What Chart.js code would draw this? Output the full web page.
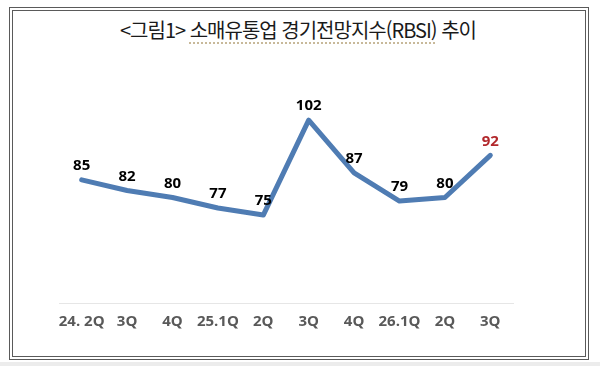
<!DOCTYPE html>
<html lang="ko">
<head>
<meta charset="utf-8">
<script src="https://cdn.jsdelivr.net/npm/chart.js@4"></script>
<style>
    body { margin: 0; background: #fff; }
    #page { position: relative; width: 600px; height: 366px; overflow: hidden; }
    #frame {
        position: absolute; left: 9px; top: 7px; width: 572px; height: 345px;
        border: 4px double #5a5a5a;
    }
    #shadow { position: absolute; left: 0; top: 362px; width: 600px; height: 4px; background: #ececec; }
    #title {
        position: absolute; left: 0; top: 15px; width: 596px; text-align: center;
        font-family: "Noto Sans CJK KR", sans-serif; font-size: 20px; letter-spacing: -1px;
        line-height: 30px; color: #1a1a1a; white-space: nowrap;
    }
    #title span { text-decoration: underline dotted #c8b99a; text-underline-offset: 4px; }
    #chart { position: absolute; left: 0; top: 0; }
</style>
</head>
<body>
<div id="page">
    <div id="shadow"></div>
    <div id="frame"></div>
    <div id="title">&lt;그림1&gt; <span>소매유통업 경기전망지수(RBSI)</span> 추이</div>
    <canvas id="chart" width="600" height="366"></canvas>
</div>
<script>
// Dữ liệu
var quarters = ['24. 2Q', '3Q', '4Q', '25.1Q', '2Q', '3Q', '4Q', '26.1Q', '2Q', '3Q'];
var rbsi = [85, 82, 80, 77, 75, 102, 87, 79, 80, 92];
var labelColors = ['#000', '#000', '#000', '#000', '#000', '#000', '#000', '#000', '#000', '#b2282c'];

// Vẽ số liệu phía trên từng điểm
var valueLabels = {
    id: 'valueLabels',
    afterDatasetsDraw: function(chart) {
        var ctx = chart.ctx;
        var meta = chart.getDatasetMeta(0);
        ctx.save();
        ctx.font = 'bold 15px "Open Sans", sans-serif';
        ctx.textAlign = 'center';
        ctx.textBaseline = 'middle';
        for (var i = 0; i < meta.data.length; i++) {
            var p = meta.data[i];
            ctx.fillStyle = labelColors[i];
            ctx.fillText(rbsi[i], p.x, p.y - 14);
        }
        ctx.restore();
    }
};

var canvas = document.getElementById('chart');
new Chart(canvas, {
    type: 'line',
    data: {
        labels: quarters,
        datasets: [{
            data: rbsi,
            borderColor: '#4f7cb3',
            borderWidth: 5,
            borderJoinStyle: 'round',
            borderCapStyle: 'round',
            pointRadius: 0,
            tension: 0,
            fill: false
        }]
    },
    options: {
        responsive: false,
        animation: false,
        layout: { padding: { left: 59, right: 87, top: 92, bottom: 25 } },
        plugins: { legend: { display: false }, tooltip: { enabled: false } },
        scales: {
            x: {
                offset: true,
                grid: { display: false, drawTicks: false },
                border: { display: true, color: '#e6e6e6', width: 1 },
                ticks: {
                    padding: 10,
                    color: '#595959',
                    font: { family: '"Open Sans", sans-serif', size: 15, weight: 'bold' },
                    maxRotation: 0,
                    autoSkip: false
                }
            },
            y: {
                display: false,
                min: 50,
                max: 110
            }
        }
    },
    plugins: [valueLabels]
});
</script>
</body>
</html>
